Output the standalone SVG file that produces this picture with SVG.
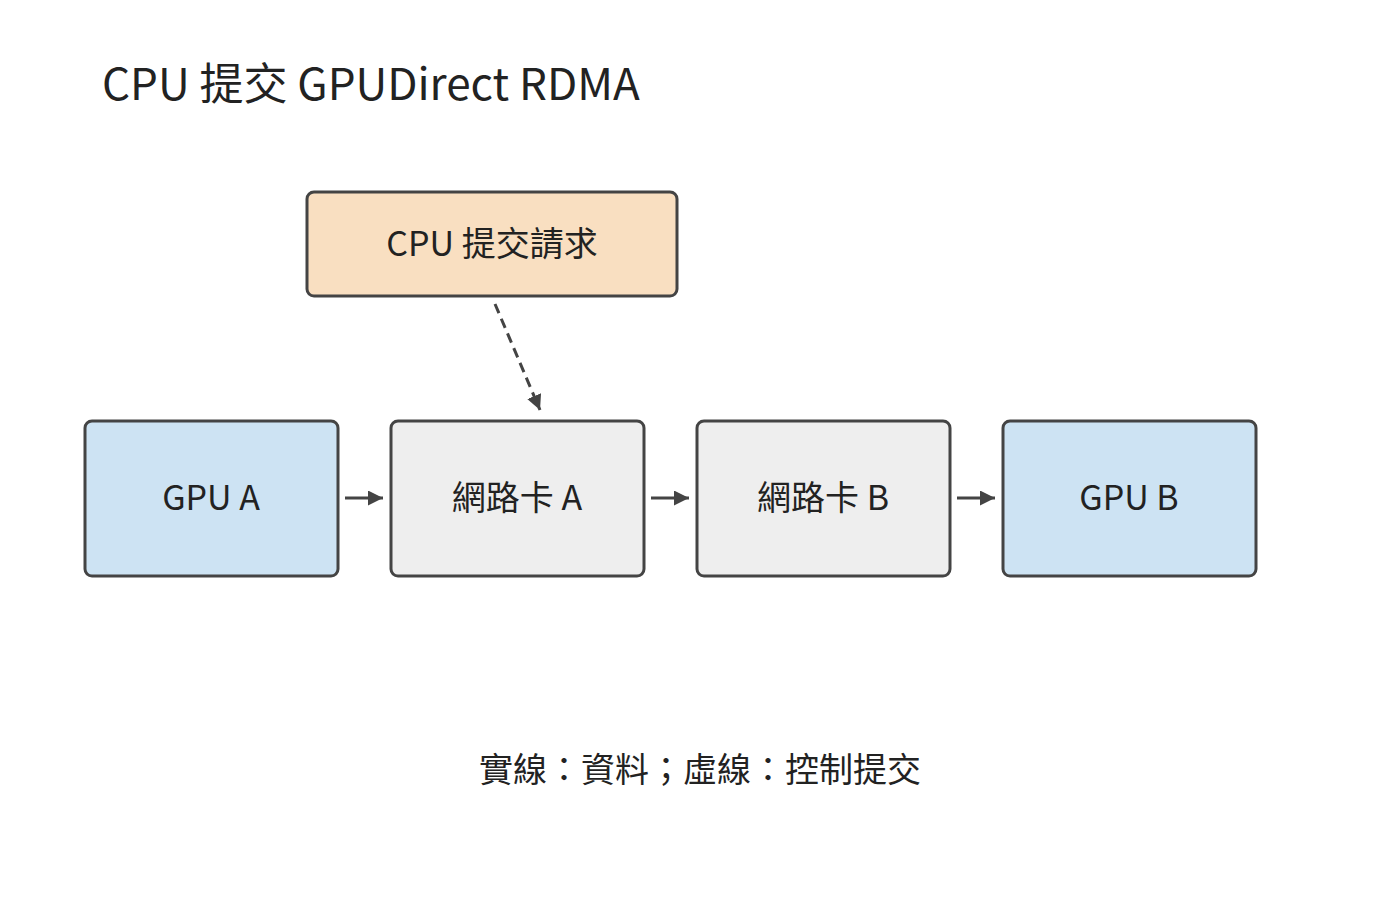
<svg xmlns="http://www.w3.org/2000/svg" width="1400" height="912" viewBox="0 0 1400 912">
<style>
text{font-family:"Noto Sans CJK TC","Noto Sans",sans-serif;fill:#222}
.n{stroke:#444;stroke-width:3}
.l{font-size:34px;text-anchor:middle}
.c{stroke:#444;stroke-width:3;fill:none}
</style>
<defs><marker id="a" viewBox="0 0 10 10" refX="10" refY="5" markerWidth="5" markerHeight="5" orient="auto"><path d="M0,0L10,5L0,10z" fill="#444"/></marker></defs>
<rect width="1400" height="912" fill="#fff"/>
<text x="102" y="100" font-size="44">CPU 提交 GPUDirect RDMA</text>
<g id="cpu"><rect class="n" x="307" y="192" width="370" height="104" rx="7" fill="#f9dfc1"/><text class="l" x="492" y="256">CPU 提交請求</text></g>
<g id="gpua"><rect class="n" x="85" y="421" width="253" height="155" rx="7" fill="#cde3f3"/><text class="l" x="211" y="510">GPU A</text></g>
<g id="nica"><rect class="n" x="391" y="421" width="253" height="155" rx="7" fill="#eeeeee"/><text class="l" x="517" y="510">網路卡 A</text></g>
<g id="nicb"><rect class="n" x="697" y="421" width="253" height="155" rx="7" fill="#eeeeee"/><text class="l" x="823" y="510">網路卡 B</text></g>
<g id="gpub"><rect class="n" x="1003" y="421" width="253" height="155" rx="7" fill="#cde3f3"/><text class="l" x="1129" y="510">GPU B</text></g>
<g id="connectors">
<path class="c" d="M345,498H383" marker-end="url(#a)"/>
<path class="c" d="M651,498H689" marker-end="url(#a)"/>
<path class="c" d="M957,498H995" marker-end="url(#a)"/>
<path class="c" d="M495,304L540,410" stroke-dasharray="10,6" marker-end="url(#a)"/>
</g>
<text class="l" x="700" y="782">實線：資料；虛線：控制提交</text>
</svg>
